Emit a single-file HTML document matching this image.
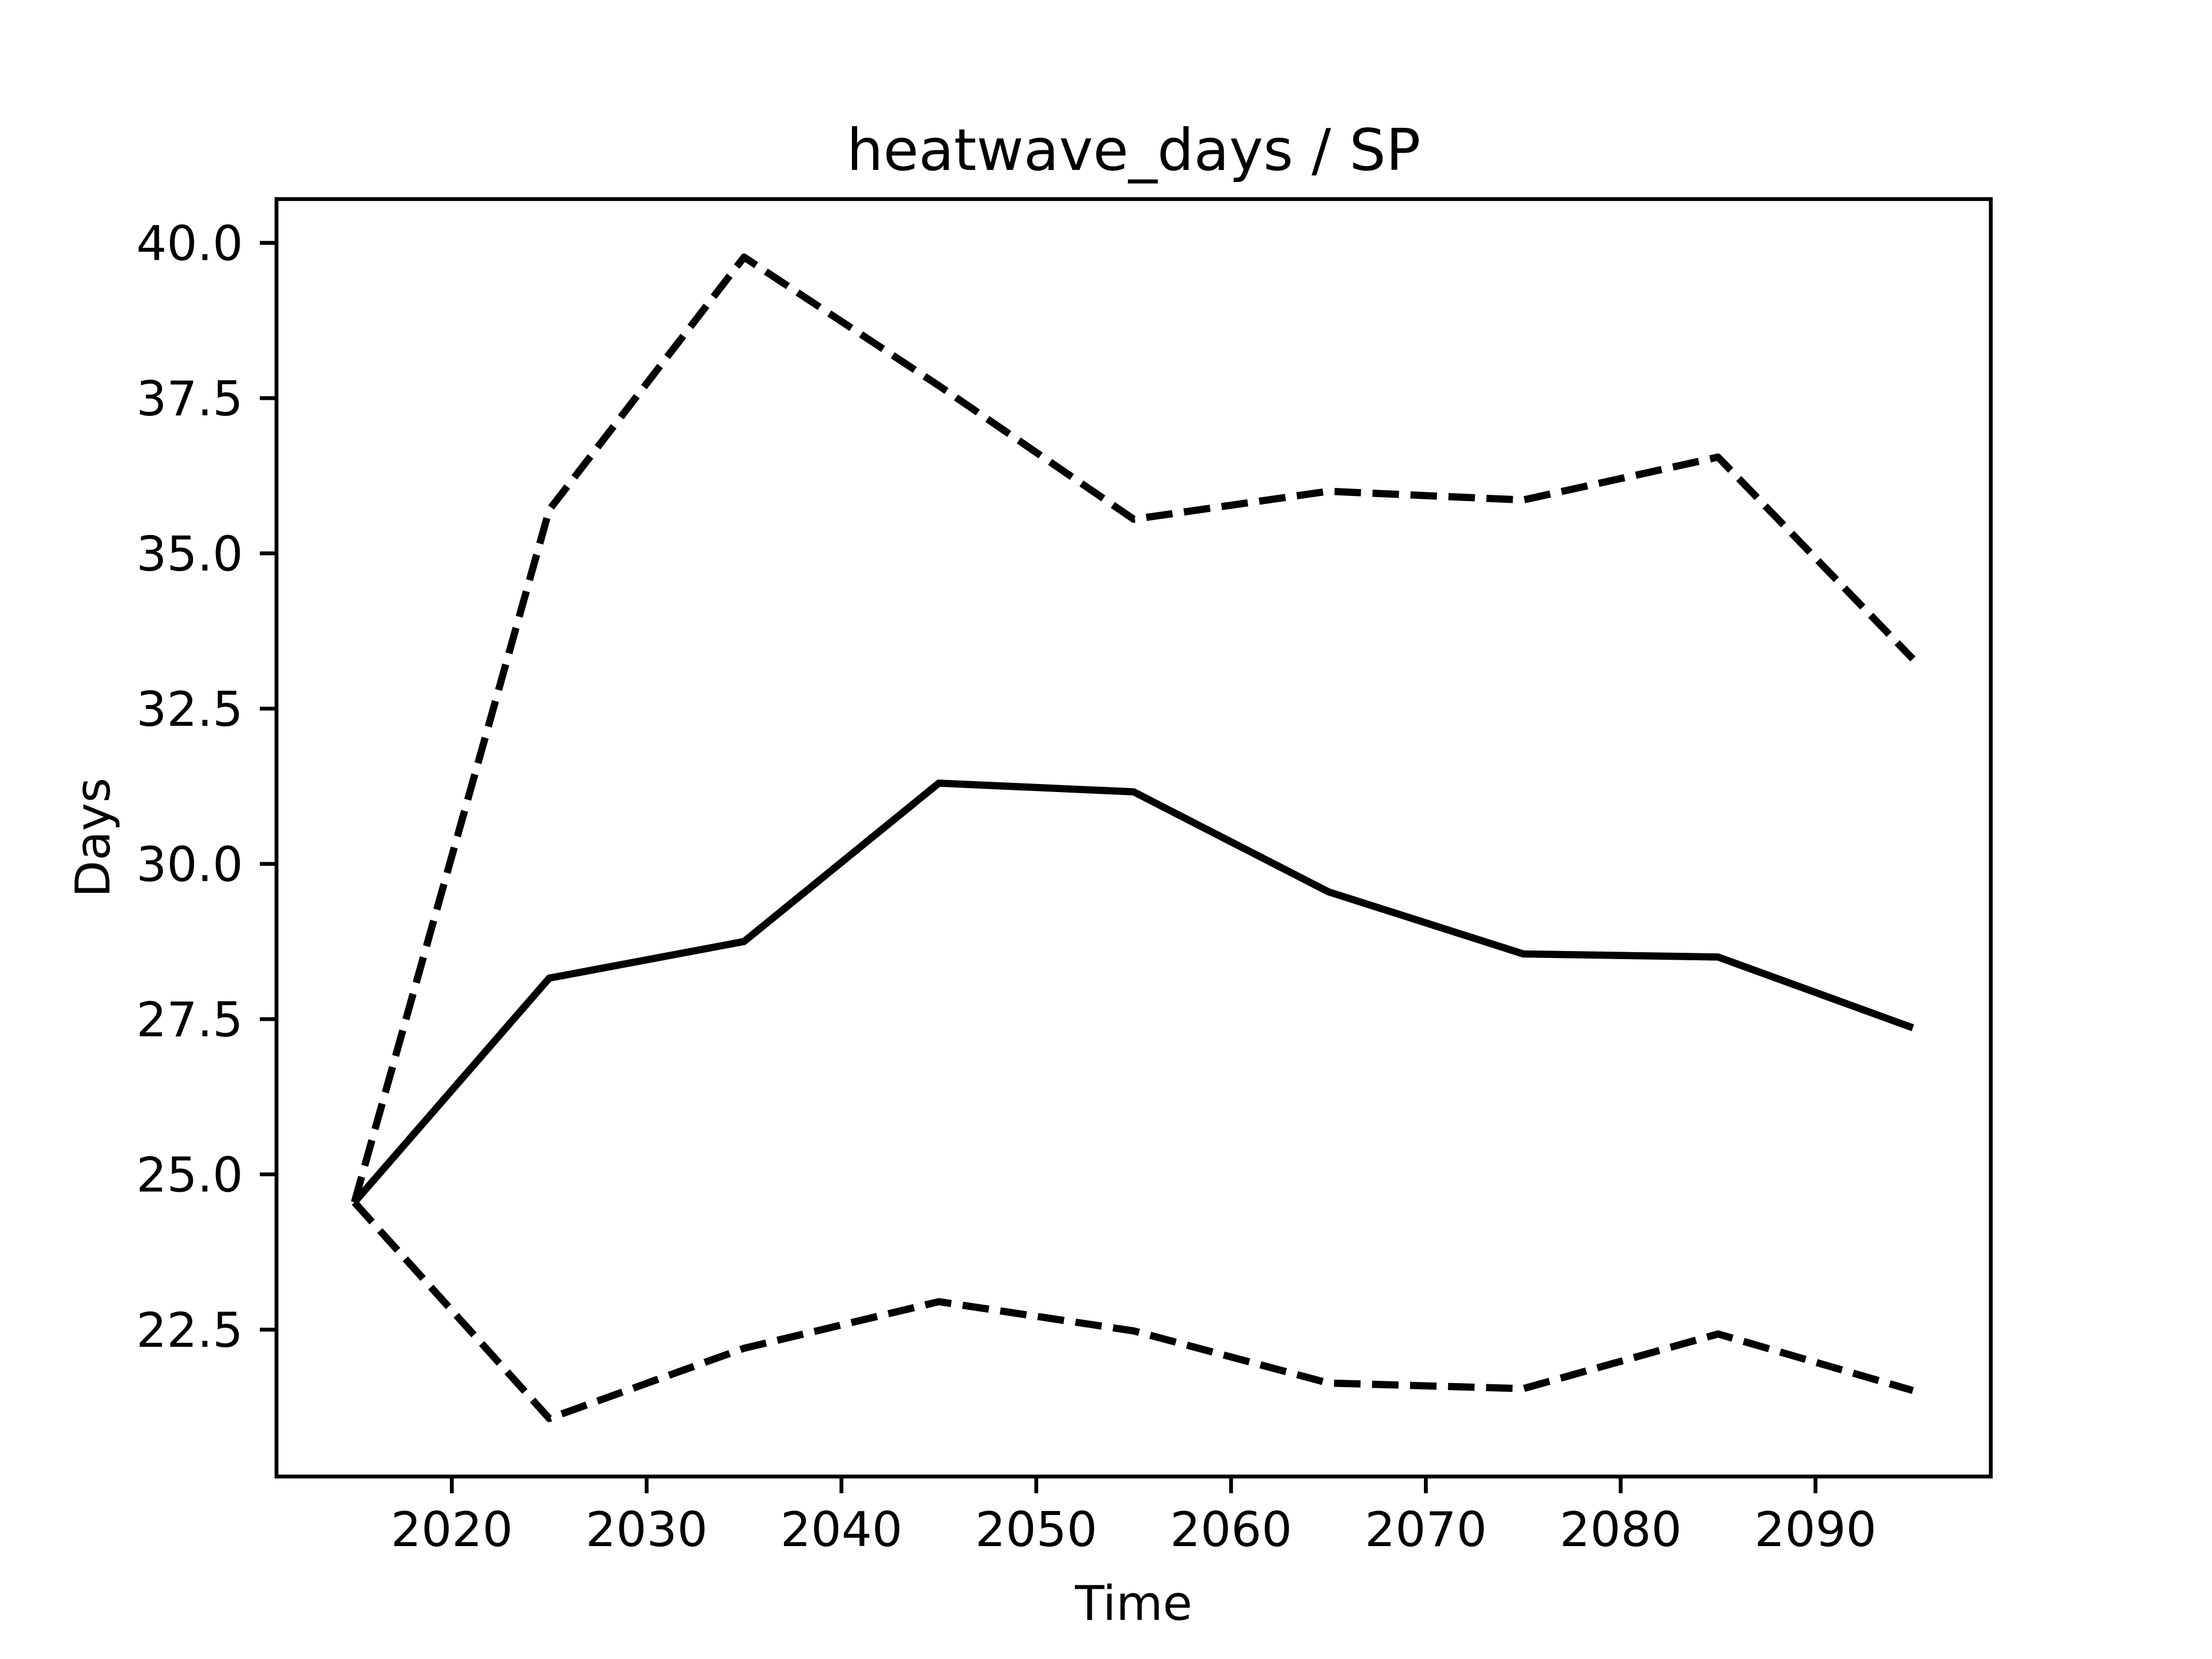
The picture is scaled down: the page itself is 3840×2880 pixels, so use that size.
<!DOCTYPE html>
<html><head><meta charset="utf-8"><style>
html,body{margin:0;padding:0;background:#fff}
svg{display:block;font-family:"DejaVu Sans","Liberation Sans",sans-serif}
</style></head><body>
<svg id="chart" width="3840" height="2880" viewBox="0 0 3840 2880" xmlns="http://www.w3.org/2000/svg">
<rect width="3840" height="2880" fill="#fff"/>
<text x="1968" y="295" font-size="100" text-anchor="middle">heatwave_days / SP</text>
<g id="xticks"></g>
<g id="yticks"></g>
<g id="series"></g>
<rect x="480" y="345.6" width="2976" height="2217.6" fill="none" stroke="#000" stroke-width="6.67"/>
<text x="1968" y="2812" font-size="83.3" text-anchor="middle">Time</text>
<text transform="translate(190,1454) rotate(-90)" font-size="83.3" text-anchor="middle">Days</text>
</svg>
<script>
const years = [2015, 2025, 2035, 2045, 2055, 2065, 2075, 2085, 2095];
const meanValues = [24.55, 28.16, 28.75, 31.3, 31.16, 29.55, 28.55, 28.5, 27.36];
const upperValues = [24.55, 35.7, 39.77, 37.7, 35.55, 36.0, 35.86, 36.55, 33.3];
const lowerValues = [24.55, 21.07, 22.2, 22.95, 22.48, 21.64, 21.55, 22.43, 21.52];
const xTicks = [2020, 2030, 2040, 2050, 2060, 2070, 2080, 2090];
const yTicks = [22.5, 25.0, 27.5, 30.0, 32.5, 35.0, 37.5, 40.0];

const NS = "http://www.w3.org/2000/svg";
const L = 480, R = 3456, T = 345.6, B = 2563.2;
const allV = meanValues.concat(upperValues, lowerValues);
const dMin = Math.min(...allV), dMax = Math.max(...allV);
const yPad = (dMax - dMin) * 0.05;
const y0 = dMin - yPad, y1 = dMax + yPad;
const xPad = (Math.max(...years) - Math.min(...years)) * 0.05;
const x0 = Math.min(...years) - xPad, x1 = Math.max(...years) + xPad;
const sx = v => L + (v - x0) / (x1 - x0) * (R - L);
const sy = v => B - (v - y0) / (y1 - y0) * (B - T);

function mk(tag, attrs, parent) {
  const e = document.createElementNS(NS, tag);
  for (const k in attrs) e.setAttribute(k, attrs[k]);
  parent.appendChild(e);
  return e;
}
const xg = document.getElementById('xticks');
xTicks.forEach(t => {
  const x = sx(t);
  const ln = mk('line', {x1: x, x2: x, y1: B, y2: B + 29, stroke: '#000', 'stroke-width': 6.67}, xg);
  
  
  const tx = mk('text', {x: x, y: B + 121, 'font-size': 83.3, 'text-anchor': 'middle'}, xg);
  tx.textContent = String(t);
  
  
});
const yg = document.getElementById('yticks');
yTicks.forEach(t => {
  const y = sy(t);
  const ln = mk('line', {x1: L - 29, x2: L, y1: y, y2: y, stroke: '#000', 'stroke-width': 6.67}, yg);
  
  
  const tx = mk('text', {x: L - 58, y: y + 30, 'font-size': 83.3, 'text-anchor': 'end'}, yg);
  tx.textContent = t.toFixed(1);
  
  
});
const sg = document.getElementById('series');
function drawLine(vals, name, dashed) {
  const pts = years.map((yr, i) => sx(yr) + ',' + sy(vals[i])).join(' ');
  const attrs = {points: pts, fill: 'none', stroke: '#000', 'stroke-width': 12.5, 'stroke-linejoin': 'round'};
  if (dashed) attrs['stroke-dasharray'] = '46 20';
  const pl = mk('polyline', attrs, sg);
  
  
}
drawLine(upperValues, 'upper-bound-line', true);
drawLine(lowerValues, 'lower-bound-line', true);
drawLine(meanValues, 'mean-line', false);
</script>
</body></html>
